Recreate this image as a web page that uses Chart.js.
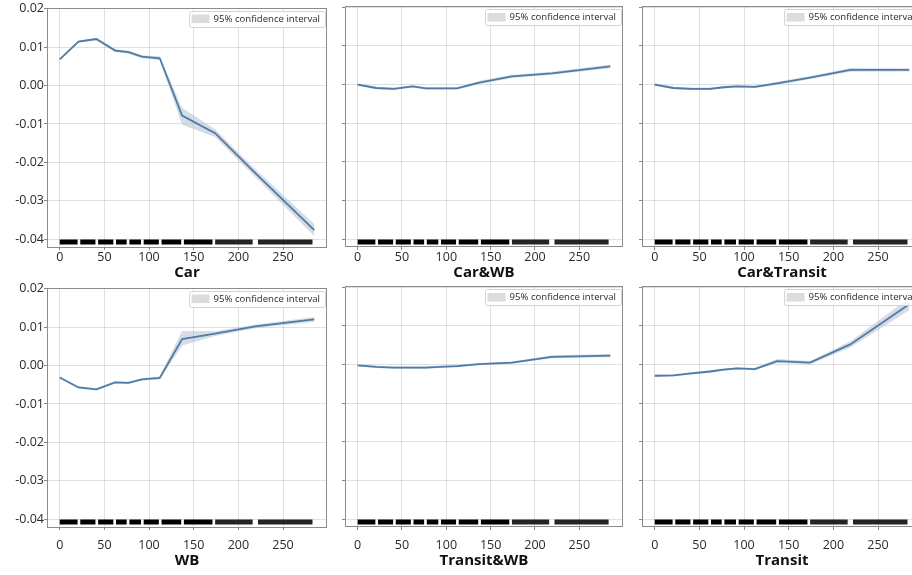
<!DOCTYPE html>
<html lang="en">
<head>
<meta charset="UTF-8">
<title>Partial dependence</title>
<script src="https://cdn.jsdelivr.net/npm/chart.js"></script>
<style>
  body { margin: 0; background: #fff; overflow: hidden; width: 912px; height: 575px; position: relative; }
  canvas.panel { position: absolute; }
</style>
</head>
<body>
<script>
// grid points of the partial dependence curves
const xGrid = [0, 21, 41, 62, 77, 92, 112, 137, 174, 219, 285];
const xTicks = [0, 50, 100, 150, 200, 250];
const yTicks = [-0.04, -0.03, -0.02, -0.01, 0.00, 0.01, 0.02];
const panelNames = ['Car', 'Car&WB', 'Car&Transit', 'WB', 'Transit&WB', 'Transit'];

const carMean = [0.0068, 0.0114, 0.0121, 0.0091, 0.0087, 0.0075, 0.0071, -0.0078, -0.0124, -0.0228, -0.0376];
const carLow  = [0.0066, 0.0111, 0.0118, 0.0087, 0.0083, 0.0071, 0.0066, -0.0102, -0.0134, -0.0238, -0.0392];
const carHigh = [0.0070, 0.0117, 0.0124, 0.0095, 0.0091, 0.0079, 0.0076, -0.0058, -0.0114, -0.0218, -0.0360];

const carWbMean = [0.0000, -0.0009, -0.0011, -0.0005, -0.0010, -0.0010, -0.0010, 0.0005, 0.0021, 0.0029, 0.0047];
const carWbLow  = [-0.0003, -0.0012, -0.0014, -0.0008, -0.0013, -0.0013, -0.0013, 0.0001, 0.0017, 0.0025, 0.0042];
const carWbHigh = [0.0003, -0.0006, -0.0008, -0.0002, -0.0007, -0.0007, -0.0007, 0.0009, 0.0025, 0.0033, 0.0052];

const carTrMean = [0.0000, -0.0009, -0.0011, -0.0011, -0.0007, -0.0005, -0.0006, 0.0003, 0.0018, 0.0038, 0.0038];
const carTrLow  = [-0.0003, -0.0012, -0.0014, -0.0014, -0.0010, -0.0008, -0.0009, -0.0001, 0.0014, 0.0033, 0.0034];
const carTrHigh = [0.0003, -0.0006, -0.0008, -0.0008, -0.0004, -0.0002, -0.0003, 0.0007, 0.0022, 0.0043, 0.0042];

const wbMean = [-0.0031, -0.0057, -0.0062, -0.0044, -0.0045, -0.0036, -0.0032, 0.0069, 0.0083, 0.0102, 0.0120];
const wbLow  = [-0.0034, -0.0060, -0.0065, -0.0047, -0.0048, -0.0039, -0.0036, 0.0052, 0.0077, 0.0097, 0.0114];
const wbHigh = [-0.0028, -0.0054, -0.0059, -0.0041, -0.0042, -0.0033, -0.0028, 0.0090, 0.0089, 0.0107, 0.0126];

const trWbMean = [-0.0002, -0.0006, -0.0008, -0.0008, -0.0008, -0.0006, -0.0004, 0.0001, 0.0005, 0.0020, 0.0023];
const trWbLow  = [-0.0005, -0.0009, -0.0011, -0.0011, -0.0011, -0.0009, -0.0007, -0.0002, 0.0002, 0.0016, 0.0019];
const trWbHigh = [0.0001, -0.0003, -0.0005, -0.0005, -0.0005, -0.0003, -0.0001, 0.0004, 0.0008, 0.0024, 0.0027];

const trMean = [-0.0029, -0.0028, -0.0023, -0.0018, -0.0013, -0.0010, -0.0012, 0.0009, 0.0005, 0.0052, 0.0156];
const trLow  = [-0.0032, -0.0031, -0.0026, -0.0021, -0.0016, -0.0013, -0.0015, 0.0004, 0.0001, 0.0044, 0.0140];
const trHigh = [-0.0026, -0.0025, -0.0020, -0.0015, -0.0010, -0.0007, -0.0009, 0.0014, 0.0009, 0.0060, 0.0172];

// rug of observed values along the bottom (dense runs, then sparser runs)
const rugDenseStart = [0, 23, 43, 63, 78, 94, 114, 139];
const rugDenseEnd   = [20, 40, 60, 75, 91, 111, 136, 171];
const rugSparseStart = [174, 222];
const rugSparseEnd   = [216, 283];
const rugY = -0.0407;

const means = [carMean, carWbMean, carTrMean, wbMean, trWbMean, trMean];
const lows  = [carLow, carWbLow, carTrLow, wbLow, trWbLow, trLow];
const highs = [carHigh, carWbHigh, carTrHigh, wbHigh, trWbHigh, trHigh];

const cols = [
  { left: 0, width: 335, axisW: 47, padR: 8, labels: true },
  { left: 335, width: 295, axisW: 10, padR: 7, labels: false },
  { left: 630, width: 300, axisW: 12, padR: 8, labels: false }
];
const rows = [
  { top: 0, height: 280, axisH: 33, tickPad: 0, titlePad: 0 },
  { top: 280, height: 295, axisH: 48, tickPad: 8, titlePad: 7 }
];

const bandColor = 'rgba(180,192,210,0.55)';
const lineColor = '#4f7ca6';
const gridColor = 'rgba(0,0,0,0.12)';
const textColor = '#2a2a2a';
const font = 'Open Sans';

const pts = arr => xGrid.map((x, i) => ({ x: x, y: arr[i] }));
const rugPts = (starts, ends) => {
  const out = [];
  starts.forEach((s, i) => {
    out.push({ x: s, y: rugY }, { x: ends[i], y: rugY }, { x: ends[i], y: null });
  });
  return out;
};

const framePlugin = {
  id: 'frame',
  afterDraw(chart) {
    const { ctx, chartArea: a } = chart;
    ctx.save();
    ctx.strokeStyle = '#8c8c8c';
    ctx.lineWidth = 1;
    ctx.strokeRect(Math.round(a.left) + 0.5, Math.round(a.top) + 0.5,
      Math.round(a.right - a.left) - 1, Math.round(a.bottom - a.top) - 1);
    ctx.restore();
  }
};

const ciLegend = {
  id: 'ciLegend',
  afterDatasetsDraw(chart) {
    const { ctx, chartArea: a } = chart;
    const text = '95% confidence interval';
    ctx.save();
    ctx.font = '9.6px "' + font + '"';
    const w = 25 + ctx.measureText(text).width + 5, h = 16;
    const x = a.right - 2 - w, y = a.top + 3;
    ctx.fillStyle = 'rgba(255,255,255,0.85)';
    ctx.strokeStyle = '#d4d4d4';
    ctx.lineWidth = 1;
    ctx.beginPath();
    ctx.roundRect(Math.round(x) + 0.5, Math.round(y) + 0.5, Math.round(w), h, 2);
    ctx.fill();
    ctx.stroke();
    ctx.fillStyle = '#dcdcdc';
    ctx.fillRect(x + 3, y + 4, 18, 8.5);
    ctx.fillStyle = textColor;
    ctx.textBaseline = 'middle';
    ctx.fillText(text, x + 25, y + h / 2 + 0.5);
    ctx.restore();
  }
};

panelNames.forEach((name, i) => {
  const col = cols[i % 3], row = rows[Math.floor(i / 3)];
  const canvas = document.createElement('canvas');
  canvas.className = 'panel';
  canvas.width = col.width;
  canvas.height = row.height;
  canvas.style.left = col.left + 'px';
  canvas.style.top = row.top + 'px';
  canvas.style.width = col.width + 'px';
  canvas.style.height = row.height + 'px';
  document.body.appendChild(canvas);

  new Chart(canvas, {
    type: 'line',
    data: {
      datasets: [
        { label: 'upper', data: pts(highs[i]), fill: '+1', backgroundColor: bandColor, borderWidth: 0, pointRadius: 0, order: 3 },
        { label: 'lower', data: pts(lows[i]), fill: false, borderWidth: 0, pointRadius: 0, order: 3 },
        { label: name, data: pts(means[i]), fill: false, borderColor: lineColor, borderWidth: 1.8, pointRadius: 0, order: 1 },
        { label: 'rug', data: rugPts(rugDenseStart, rugDenseEnd), borderColor: '#000', borderWidth: 5,
          borderCapStyle: 'butt', pointRadius: 0, spanGaps: false, fill: false, order: 2 },
        { label: 'rug2', data: rugPts(rugSparseStart, rugSparseEnd), borderColor: 'rgba(0,0,0,0.86)', borderWidth: 5,
          borderCapStyle: 'butt', pointRadius: 0, spanGaps: false, fill: false, order: 2 }
      ]
    },
    options: {
      responsive: false,
      animation: false,
      devicePixelRatio: 1,
      layout: { padding: { top: 6, right: col.padR, left: 0, bottom: 0 } },
      plugins: { legend: { display: false }, tooltip: { enabled: false } },
      scales: {
        x: {
          type: 'linear',
          min: -14.25,
          max: 299.25,
          afterBuildTicks: s => { s.ticks = xTicks.map(v => ({ value: v })); },
          afterFit: s => { s.height = row.axisH; },
          ticks: { color: textColor, padding: row.tickPad, maxRotation: 0, font: { family: font, size: 12.5 } },
          grid: { color: gridColor, tickLength: 3, tickColor: '#888' },
          border: { display: false },
          title: {
            display: true, text: name, color: '#111',
            font: { family: font, size: 15, weight: 'bold', lineHeight: 1 },
            padding: { top: 0, bottom: row.titlePad }
          }
        },
        y: {
          min: -0.042,
          max: 0.0203,
          afterBuildTicks: s => { s.ticks = yTicks.map(v => ({ value: v })); },
          afterFit: s => { s.width = col.axisW; },
          ticks: {
            display: col.labels, color: textColor, padding: 0,
            font: { family: font, size: 12.5 },
            callback: v => v.toFixed(2)
          },
          grid: { color: gridColor, tickLength: 3, tickColor: '#888' },
          border: { display: false }
        }
      }
    },
    plugins: [framePlugin, ciLegend]
  });
});
</script>
</body>
</html>
